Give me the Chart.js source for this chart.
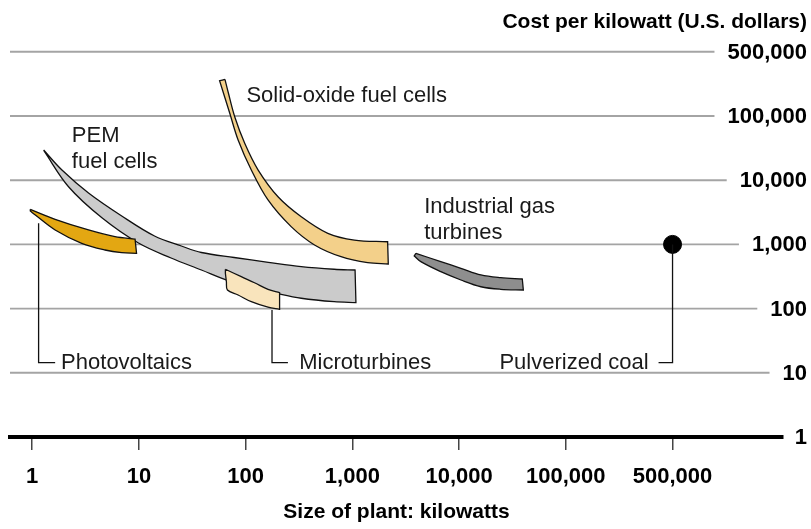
<!DOCTYPE html>
<html>
<head>
<meta charset="utf-8">
<script src="https://cdn.jsdelivr.net/npm/chart.js@4.4.0/dist/chart.umd.min.js"></script>
<style>
  html, body { margin: 0; padding: 0; background: #fff; }
  #wrap { width: 811px; height: 529px; position: relative; }
</style>
</head>
<body>
<div id="wrap"><canvas id="canvas"></canvas></div>
<script>
// axis ticks (both axes are log-like, with 500,000 placed one step after 100,000)
const xTickValues = [1, 10, 100, 1000, 10000, 100000, 500000];
const xTickLabels = ['1', '10', '100', '1,000', '10,000', '100,000', '500,000'];
const yTickValues = [1, 10, 100, 1000, 10000, 100000, 500000];
const yTickLabels = ['1', '10', '100', '1,000', '10,000', '100,000', '500,000'];

// bands: [size of plant kW, cost per kW $], outer edge then inner edge, left to right
const pvUpper = [[0.96, 3520], [1.64, 2460], [3.37, 1680], [5.97, 1320], [9.2, 1210]];
const pvLower = [[0.96, 3310], [1.07, 2870], [1.64, 1680], [2.91, 1040], [4.81, 818], [6.89, 743], [9.5, 727]];

const pemUpper = [[1.28, 29500], [1.9, 14400], [3.37, 6320], [6.9, 2770], [14, 1350], [25, 944], [38.5, 748],
  [78, 625], [163, 526], [332, 450], [675, 410], [1060, 399]];
const pemLower = [[1.3, 28000], [2.19, 7920], [4.5, 2600], [9.9, 1050], [20, 614], [38.5, 399], [68.5, 272],
  [113, 215], [201, 171], [332, 145], [675, 128], [1080, 124]];

const sofcUpper = [[64, 251000], [69, 177000], [79, 97500], [98, 37600], [131, 14400], [201, 5530],
  [332, 2700], [589, 1490], [1045, 1170], [2140, 1100]];
const sofcLower = [[57, 242000], [71, 107000], [85, 42300], [113, 14400], [162, 4920], [267, 1890],
  [442, 980], [783, 643], [1390, 519], [2170, 495]];

const microUpper = [[64.6, 410], [91, 314], [121, 253], [162, 200], [208, 177]];
const microLower = [[64.6, 355], [66, 262], [67.5, 195], [85, 163], [113, 128], [162, 105], [208, 97.5]];

const gasUpper = [[3940, 727], [6740, 538], [10400, 425], [16000, 334], [24500, 303], [39100, 289]];
const gasLower = [[3800, 660], [4380, 538], [6740, 376], [10400, 279], [16000, 219], [24500, 200], [40000, 195]];

const coal = [[500000, 1000]];

// decades up to 100,000, then one step to 500,000
function pos(v) {
  return v <= 100000 ? Math.log10(v) : 5 + Math.log10(v / 100000) / Math.log10(5);
}
// closed outline; corner points doubled so the spline keeps them sharp
function band(upper, lower) {
  const rev = lower.slice().reverse();
  const pts = [...upper, upper[upper.length - 1], rev[0], ...rev, rev[rev.length - 1], upper[0]];
  return pts.map(([kw, c]) => ({ x: pos(kw), y: pos(c) }));
}
function bandSet(label, upper, lower, color) {
  return {
    label: label,
    data: band(upper, lower),
    fill: 'shape',
    backgroundColor: color,
    borderColor: '#111',
    borderWidth: 1.3,
    pointRadius: 0,
    tension: 0.35,
  };
}

// annotation positions, in axis units
const notes = [
  { lines: ['Solid-oxide fuel cells'], x: 2.007, y: 5.213 },
  { lines: ['PEM', 'fuel cells'], x: 0.371, y: 4.600 },
  { lines: ['Industrial gas', 'turbines'], x: 3.673, y: 3.484 },
  { lines: ['Photovoltaics'], x: 0.271, y: 1.054 },
  { lines: ['Microturbines'], x: 2.502, y: 1.054 },
  { lines: ['Pulverized coal'], x: 5.776, y: 1.054, align: 'right' },
];
const leaders = [
  [[0.06, 3.328], [0.06, 1.157], [0.215, 1.157]],
  [[2.247, 1.978], [2.247, 1.157], [2.396, 1.157]],
  [[6, 3], [6, 1.157], [5.869, 1.157]],
];

const boldNum = 'bold 22px "Liberation Sans", Arial, sans-serif';
const boldTitle = 'bold 21px "Liberation Sans", Arial, sans-serif';
const regular = '22px "Liberation Sans", Arial, sans-serif';

const decor = {
  id: 'decor',
  beforeDatasetsDraw(chart) {
    const { ctx, chartArea, scales: { y } } = chart;
    ctx.save();
    ctx.font = boldNum;
    ctx.strokeStyle = '#a4a4a4';
    ctx.lineWidth = 1.9;
    yTickValues.forEach((v, i) => {
      if (v === 1) return;
      const py = y.getPixelForValue(pos(v));
      const w = ctx.measureText(yTickLabels[i]).width;
      ctx.beginPath();
      ctx.moveTo(chartArea.left, py);
      ctx.lineTo(807 - w - 13, py);
      ctx.stroke();
    });
    ctx.restore();
  },
  afterDraw(chart) {
    const { ctx, scales: { x, y } } = chart;
    ctx.save();
    // right-hand cost labels
    ctx.fillStyle = '#000';
    ctx.font = boldNum;
    ctx.textAlign = 'right';
    ctx.textBaseline = 'middle';
    yTickValues.forEach((v, i) => {
      ctx.fillText(yTickLabels[i], 807, y.getPixelForValue(pos(v)) + 1);
    });
    ctx.font = boldTitle;
    ctx.textBaseline = 'alphabetic';
    ctx.fillText('Cost per kilowatt (U.S. dollars)', 807, 28);

    // leader lines
    ctx.strokeStyle = '#111';
    ctx.lineWidth = 1.3;
    leaders.forEach(pts => {
      ctx.beginPath();
      pts.forEach(([u, v], k) => {
        const px = x.getPixelForValue(u), py = y.getPixelForValue(v);
        if (k === 0) ctx.moveTo(px, py); else ctx.lineTo(px, py);
      });
      ctx.stroke();
    });

    // labels
    ctx.font = regular;
    ctx.fillStyle = '#1a1a1a';
    notes.forEach(n => {
      ctx.textAlign = n.align || 'left';
      const px = x.getPixelForValue(n.x);
      const py = y.getPixelForValue(n.y);
      n.lines.forEach((t, k) => ctx.fillText(t, px, py + k * 26));
    });
    ctx.restore();
  }
};

new Chart(document.getElementById('canvas'), {
  type: 'line',
  data: {
    datasets: [
      bandSet('Microturbines', microUpper, microLower, '#f9e4bc'),
      bandSet('Photovoltaics', pvUpper, pvLower, '#e3a712'),
      bandSet('PEM fuel cells', pemUpper, pemLower, '#cbcbcb'),
      bandSet('Solid-oxide fuel cells', sofcUpper, sofcLower, '#f3d08a'),
      bandSet('Industrial gas turbines', gasUpper, gasLower, '#8e8e8e'),
      {
        label: 'Pulverized coal',
        data: coal.map(([kw, c]) => ({ x: pos(kw), y: pos(c) })),
        showLine: false,
        pointRadius: 9,
        pointBackgroundColor: '#000',
        pointBorderColor: '#000',
      },
    ],
  },
  options: {
    responsive: true,
    maintainAspectRatio: false,
    animation: false,
    events: [],
    layout: { padding: { left: 8, right: 28, top: 19.7, bottom: 4.4 } },
    plugins: {
      legend: { display: false },
      tooltip: { enabled: false },
    },
    scales: {
      x: {
        type: 'linear',
        min: -0.208,
        max: 7.035,
        afterBuildTicks: (s) => { s.ticks = xTickValues.map(v => ({ value: pos(v) })); },
        border: { display: true, color: '#000', width: 4 },
        grid: { drawOnChartArea: false, drawTicks: true, tickLength: 13, color: '#444', lineWidth: 1.5 },
        ticks: {
          color: '#000',
          font: { family: '"Liberation Sans", Arial, sans-serif', size: 22, weight: 'bold' },
          padding: 13.8,
          autoSkip: false,
          maxRotation: 0,
          callback: (value, index) => xTickLabels[index],
        },
        title: {
          display: true,
          text: 'Size of plant: kilowatts',
          color: '#000',
          font: { family: '"Liberation Sans", Arial, sans-serif', size: 21, weight: 'bold' },
          padding: { top: -4.6, bottom: 0 },
        },
      },
      y: {
        type: 'linear',
        display: false,
        min: 0,
        max: 6.5,
      },
    },
  },
  plugins: [decor],
});
</script>
</body>
</html>
